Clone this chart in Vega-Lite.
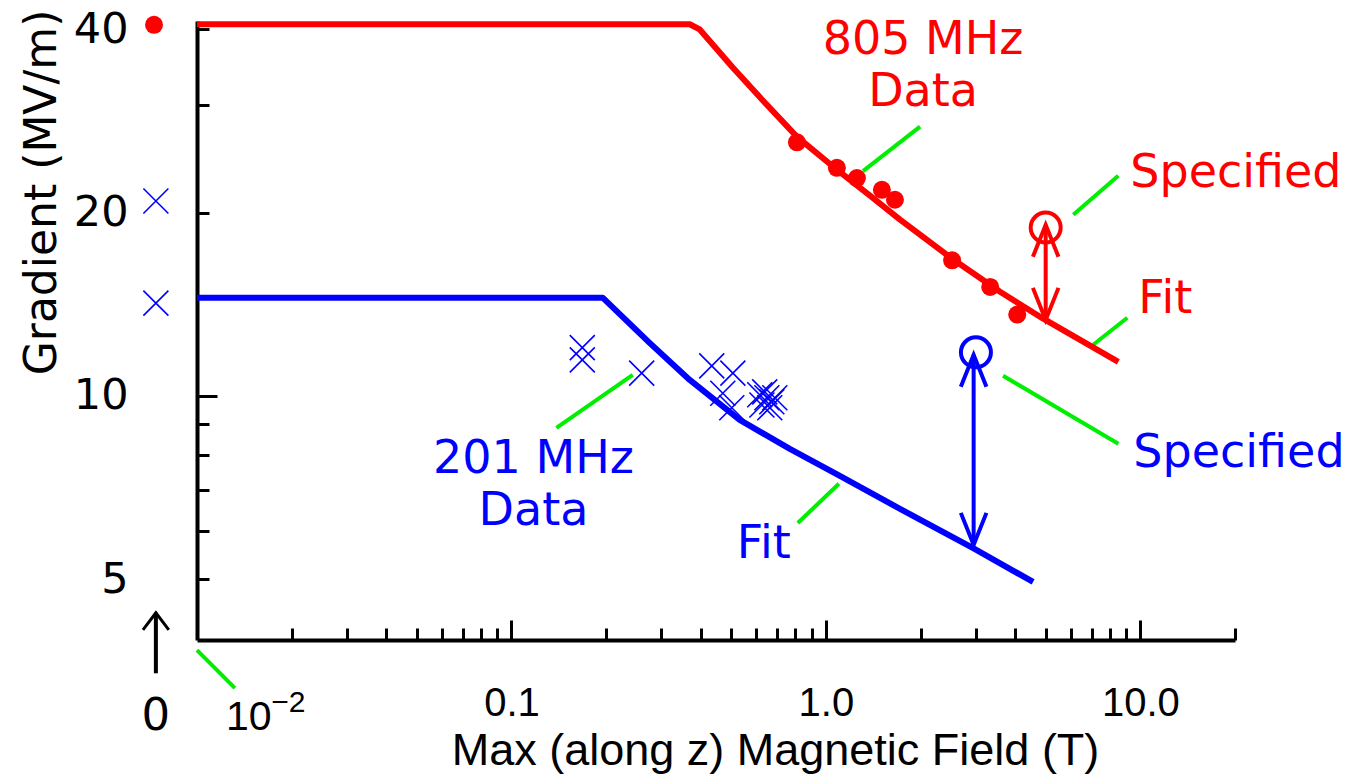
{
  "$schema": "https://vega.github.io/schema/vega-lite/v6.json",
  "width": 1038,
  "height": 619,
  "autosize": {"type": "none"},
  "padding": {"left": 197, "top": 21, "right": 125, "bottom": 135},
  "background": "white",
  "config": {"view": {"stroke": null}},
  "datasets": {
    "fits": [
      {"group": "805 MHz", "i": 0, "B": 0.01, "G": 40.8},
      {"group": "805 MHz", "i": 1, "B": 0.369, "G": 40.8},
      {"group": "805 MHz", "i": 2, "B": 0.397, "G": 40.0},
      {"group": "805 MHz", "i": 3, "B": 0.5055, "G": 34.63},
      {"group": "805 MHz", "i": 4, "B": 0.639, "G": 30.33},
      {"group": "805 MHz", "i": 5, "B": 0.8083, "G": 26.67},
      {"group": "805 MHz", "i": 6, "B": 1.084, "G": 23.53},
      {"group": "805 MHz", "i": 7, "B": 1.381, "G": 21.33},
      {"group": "805 MHz", "i": 8, "B": 1.721, "G": 19.48},
      {"group": "805 MHz", "i": 9, "B": 2.52, "G": 16.8},
      {"group": "805 MHz", "i": 10, "B": 3.58, "G": 14.83},
      {"group": "805 MHz", "i": 11, "B": 4.91, "G": 13.39},
      {"group": "805 MHz", "i": 12, "B": 8.51, "G": 11.37},
      {"group": "201 MHz", "i": 0, "B": 0.01, "G": 14.5},
      {"group": "201 MHz", "i": 1, "B": 0.195, "G": 14.5},
      {"group": "201 MHz", "i": 2, "B": 0.275, "G": 12.22},
      {"group": "201 MHz", "i": 3, "B": 0.369, "G": 10.62},
      {"group": "201 MHz", "i": 4, "B": 0.532, "G": 9.13},
      {"group": "201 MHz", "i": 5, "B": 0.768, "G": 8.18},
      {"group": "201 MHz", "i": 6, "B": 1.108, "G": 7.39},
      {"group": "201 MHz", "i": 7, "B": 1.721, "G": 6.52},
      {"group": "201 MHz", "i": 8, "B": 2.94, "G": 5.62},
      {"group": "201 MHz", "i": 9, "B": 4.56, "G": 4.945}
    ],
    "dots805": [
      {"group": "805 MHz", "B": 0.0073, "G": 40.7},
      {"group": "805 MHz", "B": 0.809, "G": 26.1},
      {"group": "805 MHz", "B": 1.084, "G": 23.7},
      {"group": "805 MHz", "B": 1.255, "G": 22.8},
      {"group": "805 MHz", "B": 1.507, "G": 21.8},
      {"group": "805 MHz", "B": 1.658, "G": 21.0},
      {"group": "805 MHz", "B": 2.52, "G": 16.7},
      {"group": "805 MHz", "B": 3.33, "G": 15.1},
      {"group": "805 MHz", "B": 4.06, "G": 13.6}
    ],
    "x201": [
      {"group": "201 MHz", "B": 0.0074, "G": 20.9},
      {"group": "201 MHz", "B": 0.0074, "G": 14.2},
      {"group": "201 MHz", "B": 0.168, "G": 12.0},
      {"group": "201 MHz", "B": 0.168, "G": 11.46},
      {"group": "201 MHz", "B": 0.2595, "G": 10.9},
      {"group": "201 MHz", "B": 0.4335, "G": 11.2},
      {"group": "201 MHz", "B": 0.506, "G": 10.9},
      {"group": "201 MHz", "B": 0.47, "G": 10.1},
      {"group": "201 MHz", "B": 0.502, "G": 9.56},
      {"group": "201 MHz", "B": 0.616, "G": 10.04},
      {"group": "201 MHz", "B": 0.639, "G": 10.15},
      {"group": "201 MHz", "B": 0.649, "G": 9.93},
      {"group": "201 MHz", "B": 0.673, "G": 9.78},
      {"group": "201 MHz", "B": 0.626, "G": 9.66},
      {"group": "201 MHz", "B": 0.663, "G": 9.56},
      {"group": "201 MHz", "B": 0.688, "G": 9.93}
    ],
    "specified": [
      {"group": "805 MHz", "B": 5.0, "G": 18.9},
      {"group": "201 MHz", "B": 3.0, "G": 11.79}
    ],
    "arrows": [
      {"group": "805 MHz", "B": 5.0, "G": 19.1, "G2": 13.33},
      {"group": "201 MHz", "B": 2.95, "G": 11.68, "G2": 5.69},
      {"group": "axis", "B": 0.0074, "G": 4.4, "G2": 3.5}
    ],
    "heads": [
      {"group": "805 MHz", "B": 5.0, "G": 19.1, "dir": "up"},
      {"group": "805 MHz", "B": 5.0, "G": 13.33, "dir": "down"},
      {"group": "201 MHz", "B": 2.95, "G": 11.68, "dir": "up"},
      {"group": "201 MHz", "B": 2.95, "G": 5.69, "dir": "down"}
    ],
    "zerohead": [
      {"group": "axis", "B": 0.0074, "G": 4.4}
    ],
    "leaders": [
      {"group": "leader", "B": 1.312, "G": 23.4, "B2": 1.993, "G2": 27.7},
      {"group": "leader", "B": 6.12, "G": 19.84, "B2": 8.51, "G2": 23.0},
      {"group": "leader", "B": 7.08, "G": 12.13, "B2": 9.09, "G2": 13.44},
      {"group": "leader", "B": 3.66, "G": 10.79, "B2": 8.51, "G2": 8.34},
      {"group": "leader", "B": 0.814, "G": 6.18, "B2": 1.1, "G2": 7.17},
      {"group": "leader", "B": 0.139, "G": 8.86, "B2": 0.243, "G2": 10.83},
      {"group": "leader", "B": 0.01, "G": 3.82, "B2": 0.0132, "G2": 3.31}
    ],
    "notesCenter": [
      {"group": "805 MHz", "B": 2.037, "G": 36.4, "label": "805 MHz\nData"},
      {"group": "201 MHz", "B": 0.1175, "G": 7.47, "label": "201 MHz\nData"}
    ],
    "notesLeft": [
      {"group": "805 MHz", "B": 9.29, "G": 22.0, "label": "Specified"},
      {"group": "805 MHz", "B": 9.85, "G": 13.69, "label": "Fit"},
      {"group": "201 MHz", "B": 9.5, "G": 7.64, "label": "Specified"},
      {"group": "201 MHz", "B": 0.521, "G": 5.415, "label": "Fit"}
    ],
    "zeroLabel": [
      {"group": "axis", "B": 0.0074, "G": 2.823, "label": "0"}
    ],
    "tenLabel": [
      {"group": "axis", "B": 0.01237, "G": 2.823, "label": "10"}
    ],
    "expLabel": [
      {"group": "axis", "B": 0.01721, "G": 3.022, "label": "−2"}
    ]
  },
  "encoding": {
    "x": {
      "field": "B",
      "type": "quantitative",
      "scale": {"type": "log", "domain": [0.01, 20], "nice": false},
      "axis": {
        "values": [0.02, 0.03, 0.04, 0.05, 0.06, 0.07, 0.08, 0.09, 0.1, 0.2, 0.3, 0.4, 0.5, 0.6, 0.7, 0.8, 0.9, 1, 2, 3, 4, 5, 6, 7, 8, 9, 10, 20],
        "labelExpr": "datum.value == 0.1 ? '0.1' : datum.value == 1 ? '1.0' : datum.value == 10 ? '10.0' : ''",
        "tickSize": {"condition": {"test": "datum.value == 0.1 || datum.value == 1 || datum.value == 10", "value": -20}, "value": -12},
        "tickWidth": 3,
        "tickColor": "black",
        "domainColor": "black",
        "domainWidth": 4,
        "grid": false,
        "labelFont": "Liberation Sans",
        "labelFontSize": 40,
        "labelColor": "black",
        "labelBaseline": "top",
        "labelPadding": 63,
        "labelFlush": false,
        "labelOverlap": false,
        "title": "Max (along z) Magnetic Field (T)",
        "titleFont": "Liberation Sans",
        "titleFontSize": 45,
        "titleFontWeight": "normal",
        "titleColor": "black",
        "titleX": 578,
        "titleY": 124,
        "titleAlign": "center",
        "titleBaseline": "alphabetic"
      }
    },
    "y": {
      "field": "G",
      "type": "quantitative",
      "scale": {"type": "log", "domain": [3.97, 41.3], "nice": false},
      "axis": {
        "values": [5, 6, 7, 8, 9, 10, 20, 30, 40],
        "labelExpr": "datum.value == 5 || datum.value == 10 || datum.value == 20 || datum.value == 40 ? '' + datum.value : ''",
        "tickSize": {"condition": {"test": "datum.value == 10", "value": -20}, "value": -12},
        "labelPadding": {"condition": {"test": "datum.value == 10", "value": 89}, "value": 81},
        "tickWidth": 3,
        "tickColor": "black",
        "domainColor": "black",
        "domainWidth": 4,
        "grid": false,
        "labelFont": "DejaVu Sans",
        "labelFontSize": 43,
        "labelColor": "black",
        "labelFlush": false,
        "labelOverlap": false,
        "title": "Gradient (MV/m)",
        "titleFont": "DejaVu Sans",
        "titleFontSize": 44,
        "titleFontWeight": "normal",
        "titleColor": "black",
        "titleAngle": 270,
        "titleX": -142,
        "titleY": 171,
        "titleAlign": "center",
        "titleBaseline": "alphabetic"
      }
    },
    "color": {
      "field": "group",
      "type": "nominal",
      "scale": {"domain": ["805 MHz", "201 MHz", "leader", "axis"], "range": ["#ff0000", "#0000ff", "#00ee00", "#000000"]},
      "legend": null
    }
  },
  "layer": [
    {
      "data": {"name": "leaders"},
      "mark": {"type": "rule", "strokeWidth": 4},
      "encoding": {"x2": {"field": "B2"}, "y2": {"field": "G2"}}
    },
    {
      "data": {"name": "fits"},
      "mark": {"type": "line", "strokeWidth": 6, "strokeJoin": "round"},
      "encoding": {"order": {"field": "i", "type": "quantitative"}}
    },
    {
      "data": {"name": "arrows"},
      "mark": {"type": "rule", "strokeWidth": 4},
      "encoding": {"y2": {"field": "G2"}}
    },
    {
      "data": {"name": "heads"},
      "mark": {"type": "point", "filled": false, "opacity": 1, "strokeWidth": 4, "size": 4096},
      "encoding": {
        "shape": {"field": "dir", "type": "nominal", "scale": {"domain": ["up", "down"], "range": ["M-0.4,1L0,0L0.4,1", "M-0.4,-1L0,0L0.4,-1"]}, "legend": null}
      }
    },
    {
      "data": {"name": "zerohead"},
      "mark": {"type": "point", "filled": false, "opacity": 1, "strokeWidth": 3, "size": 1156, "shape": "M-0.76,1L0,0L0.76,1"}
    },
    {
      "data": {"name": "specified"},
      "mark": {"type": "point", "shape": "circle", "filled": false, "opacity": 1, "strokeWidth": 4, "size": 900}
    },
    {
      "data": {"name": "dots805"},
      "mark": {"type": "point", "shape": "circle", "filled": true, "opacity": 1, "size": 324}
    },
    {
      "data": {"name": "x201"},
      "mark": {"type": "point", "shape": "M-1,-1L1,1M-1,1L1,-1", "filled": false, "opacity": 1, "strokeWidth": 1.6, "size": 625}
    },
    {
      "data": {"name": "notesCenter"},
      "mark": {"type": "text", "font": "DejaVu Sans", "fontSize": 46, "align": "center", "baseline": "alphabetic", "lineBreak": "\n", "lineHeight": 52},
      "encoding": {"text": {"field": "label"}}
    },
    {
      "data": {"name": "notesLeft"},
      "mark": {"type": "text", "font": "DejaVu Sans", "fontSize": 46, "align": "left", "baseline": "alphabetic"},
      "encoding": {"text": {"field": "label"}}
    },
    {
      "data": {"name": "zeroLabel"},
      "mark": {"type": "text", "font": "DejaVu Sans", "fontSize": 45, "align": "center", "baseline": "alphabetic"},
      "encoding": {"text": {"field": "label"}}
    },
    {
      "data": {"name": "tenLabel"},
      "mark": {"type": "text", "font": "Liberation Sans", "fontSize": 41, "align": "left", "baseline": "alphabetic"},
      "encoding": {"text": {"field": "label"}}
    },
    {
      "data": {"name": "expLabel"},
      "mark": {"type": "text", "font": "Liberation Sans", "fontSize": 30, "align": "left", "baseline": "alphabetic"},
      "encoding": {"text": {"field": "label"}}
    }
  ]
}
